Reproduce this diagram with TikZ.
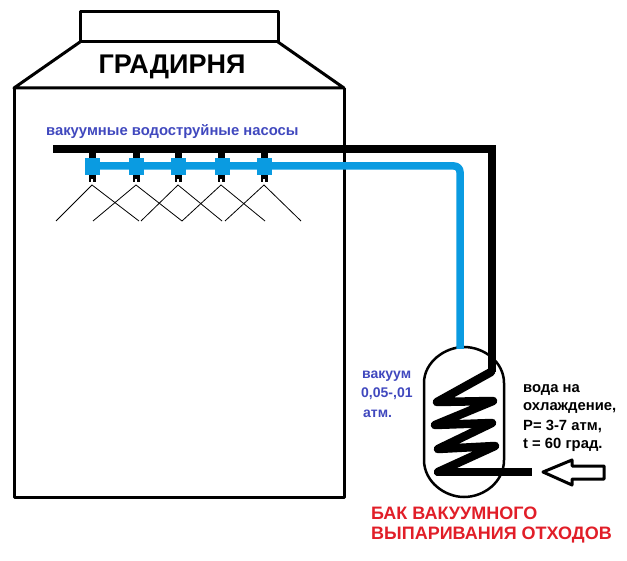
\documentclass[tikz,border=0pt]{standalone}
\usepackage{fontspec}
\setmainfont{Liberation Sans}
\tikzset{
 wall/.style={draw=black,line width=3pt,line join=round},
 thin spray/.style={draw=black,line width=0.8pt},
 pipeb/.style={draw=black,line width=8.5pt,line join=round,line cap=round},
 pipec/.style={draw=pipeblue,line width=7.5pt,rounded corners=6pt},
 lab/.style={anchor=west,inner sep=0pt,font=\bfseries\fontsize{14.8}{15}\selectfont},
 bluelab/.style={lab,text=labelblue},
 leftlab/.style={anchor=west,inner sep=0pt,text=labelblue,font=\bfseries\fontsize{14}{14}\selectfont},
 redlab/.style={anchor=west,inner sep=0pt,text=labelred,font=\bfseries\fontsize{18}{18}\selectfont},
}
\definecolor{pipeblue}{RGB}{10,155,225}
\definecolor{labelblue}{RGB}{64,72,190}
\definecolor{labelred}{RGB}{225,30,40}
\begin{document}
\begin{tikzpicture}[x=1pt,y=-1pt]
\useasboundingbox (0,0) rectangle (627,561);
% tower
\draw[wall] (80,12) rectangle (278,42);
\draw[wall] (80,42) -- (14,88) -- (344,88) -- (278,42);
\draw[wall] (14,88) -- (14,497) -- (344,497) -- (344,88);
\node[anchor=center,inner sep=0pt,font=\bfseries\fontsize{27}{27}\selectfont] (title) at (172,67) {ГРАДИРНЯ};
\node[bluelab] (pumps) at (46,132) {вакуумные водоструйные насосы};
% sprays
\foreach \px/\lx/\rx in {92/56/139,136/93/182,178/141/222,221/182/265,264/225/301}{
  \draw[thin spray] (\lx,221) -- (\px,185) -- (\rx,221);
  \fill[black] (\px-3.5,150) rectangle (\px+3.5,158);
  \fill[black] (\px-3.5,174) rectangle (\px+3.5,182);
  \fill[white] (\px-0.8,179) rectangle (\px+0.8,182);
}
% tank
\draw[line width=2.5pt] (424,383) .. controls (424,362) and (445,347) .. (464,347)
  .. controls (484,347) and (504,362) .. (504,383) -- (504,460)
  .. controls (504,482) and (484,497) .. (464,497)
  .. controls (445,497) and (424,482) .. (424,460) -- cycle;
% black coil
\draw[line width=8pt,line join=miter,line cap=butt] (53,149) -- (492,149) -- (492,372);
\draw[pipeb] (491,372) -- (437,402) -- (493,401) -- (435,425) -- (492,423) -- (438,449) -- (495,446) -- (438,472);
\draw[line width=8.5pt,line cap=butt] (437,472) -- (532,472);
% blue pipe
\draw[pipec] (85,166) -- (460,166) -- (460,349);
\foreach \px in {92,136,178,222,264}{
  \fill[pipeblue] (\px-7.5,158) rectangle (\px+7.5,175);
}
% arrow
\draw[wall] (543,472) -- (572,460) -- (572,466) -- (604,466) -- (604,479) -- (572,479) -- (572,485) -- cycle;
% labels
\node[leftlab] at (362,376) {вакуум};
\node[leftlab] at (361,394) {0,05-,01};
\node[leftlab] at (363,414) {атм.};
\node[lab] at (523,390) {вода на};
\node[lab] at (523,408) {охлаждение,};
\node[lab] at (523,426) {P= 3-7 атм,};
\node[lab] at (523,445) {t = 60 град.};
\node[redlab] at (371,513) {БАК ВАКУУМНОГО};
\node[redlab] at (371,535) {ВЫПАРИВАНИЯ ОТХОДОВ};
\end{tikzpicture}
\end{document}
